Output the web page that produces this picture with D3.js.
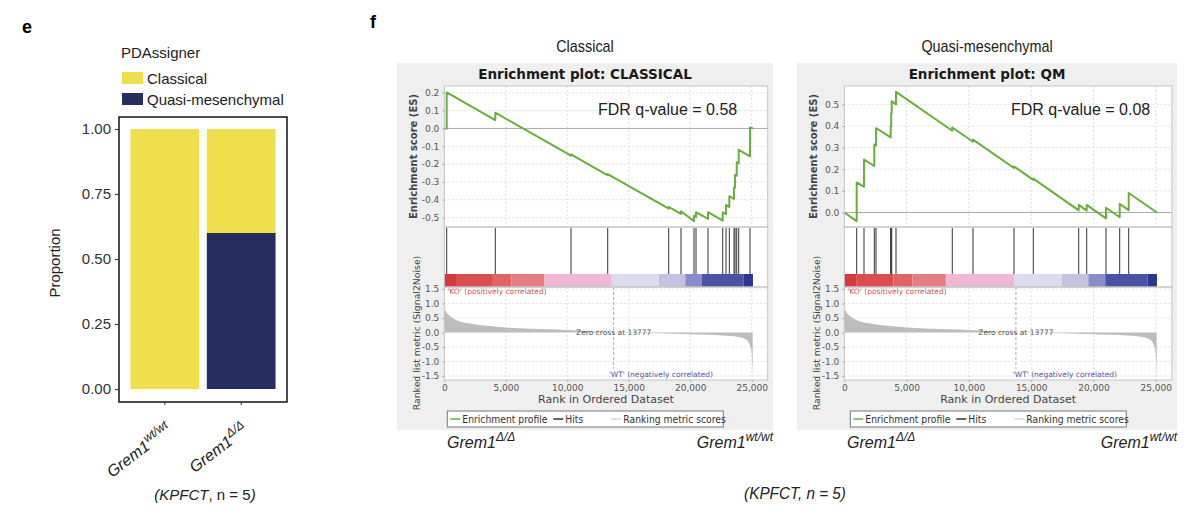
<!DOCTYPE html>
<html>
<head>
<meta charset="utf-8">
<script src="https://cdn.jsdelivr.net/npm/d3@7"></script>
<style>
body { margin: 0; background: #fff; }
svg { display: block; }
</style>
</head>
<body>
<div id="chart"></div>
<script>
// ---- panel e: PDAssigner proportions
const genotypes = ["wt/wt", "Δ/Δ"];
const classicalProp = [1.0, 0.4];
const qmProp = [0.0, 0.6];
const propTicks = [0, 0.25, 0.5, 0.75, 1.0];

// ---- panel f: GSEA (ranked list shared by both gene sets)
const rankTicks = [0, 5000, 10000, 15000, 20000, 25000];
const listSize = 25100;
const zeroCross = 13777;

const metricRanks = [0, 100, 370, 1000, 2350, 3700, 5000, 7800, 10500, 13777, 17300, 20000, 22700, 23800, 24500, 24800, 25000, 25080];
const metricValues = [0.9, 0.75, 0.6, 0.42, 0.29, 0.22, 0.17, 0.12, 0.08, 0.0, -0.03, -0.06, -0.1, -0.15, -0.23, -0.38, -0.72, -1.52];
const metricTicks = [1.5, 1.0, 0.5, 0.0, -0.5, -1.0, -1.5];

const colorBreaks = [0, 950, 3950, 5470, 8150, 13620, 17450, 19600, 20950, 24350, 25100];
const colorBand = ["#d63a3c", "#da4d50", "#de6468", "#e47e83", "#f1b8d6", "#dcdcee", "#c3c3e1", "#878dca", "#4a52a6", "#2b3592"];

const classicalHits = [195, 4148, 10304, 13289, 18250, 19251, 20308, 20471, 21447, 22642, 22911, 23179, 23562, 23643, 23781, 23944, 24862];
const classicalCurve = [[0, 0], [195, 0], [195, 0.202], [4148, 0.047], [4148, 0.088], [10304, -0.153], [10304, -0.146],
  [13289, -0.263], [13289, -0.256], [18250, -0.45], [18250, -0.44], [19251, -0.48], [19251, -0.465],
  [20308, -0.52], [20308, -0.49], [20471, -0.497], [20471, -0.47], [21447, -0.508], [21447, -0.47],
  [22642, -0.517], [22642, -0.47], [22911, -0.481], [22911, -0.43], [23179, -0.44], [23179, -0.38],
  [23562, -0.395], [23562, -0.33], [23643, -0.333], [23643, -0.26], [23781, -0.265], [23781, -0.19],
  [23944, -0.196], [23944, -0.12], [24862, -0.157], [24862, 0.005], [25100, 0.0]];
const classicalTicks = [0.2, 0.1, 0.0, -0.1, -0.2, -0.3, -0.4, -0.5];

const qmHits = [995, 1582, 2408, 2545, 3725, 3765, 3805, 4150, 8670, 10332, 13624, 15173, 18818, 19460, 21009, 22109, 22832];
const qmCurve = [[0, 0], [995, -0.04], [995, 0.139], [1582, 0.119], [1582, 0.245], [2408, 0.215], [2408, 0.315],
  [2545, 0.31], [2545, 0.39], [3725, 0.347], [3725, 0.40], [3765, 0.398], [3765, 0.46], [3805, 0.458], [3805, 0.515],
  [4150, 0.50], [4150, 0.558], [8670, 0.378], [8670, 0.393], [10332, 0.327], [10332, 0.337], [13624, 0.206], [13624, 0.213],
  [15173, 0.151], [15173, 0.157], [18818, 0.010], [18818, 0.035], [19460, 0.009], [19460, 0.035], [21009, -0.027], [21009, 0.022],
  [22109, -0.022], [22109, 0.04], [22832, 0.011], [22832, 0.09], [25100, 0.0]];
const qmTicks = [0.5, 0.4, 0.3, 0.2, 0.1, 0.0];

const svg = d3.select("#chart").append("svg")
  .attr("width", 1200)
  .attr("height", 517);

const sans = "'Liberation Sans', Arial, sans-serif";
const dejavu = "'DejaVu Sans', sans-serif";

// panel letters
svg.append("text").attr("x", 22).attr("y", 33).attr("font-family", sans).attr("font-weight", "bold")
  .attr("font-size", "18px").text("e");
svg.append("text").attr("x", 370).attr("y", 28).attr("font-family", sans).attr("font-weight", "bold")
  .attr("font-size", "18px").text("f");

// =================== panel e ===================
const box = { left: 119, right: 287, top: 117, bottom: 402 };
const rows = genotypes.map((gt, i) => ({ gt: gt, qm: qmProp[i], classical: classicalProp[i] }));
const stacked = d3.stack().keys(["qm", "classical"])(rows);
const fill = { qm: "#252e5e", classical: "#efe04b" };

const xb = d3.scaleBand().domain(genotypes).range([box.left, box.right]).paddingInner(0.1).paddingOuter(0.15);
const yp = d3.scaleLinear().domain([0, 1]).range([389, 129]);

const ge = svg.append("g");
ge.selectAll("g.layer").data(stacked).enter()
  .append("g")
  .attr("class", "layer")
  .attr("fill", d => fill[d.key])
  .selectAll("rect").data(d => d).enter()
  .append("rect")
  .attr("x", d => xb(d.data.gt))
  .attr("width", xb.bandwidth())
  .attr("y", d => yp(Math.min(d[1], 1)))
  .attr("height", d => yp(d[0]) - yp(d[1]));

ge.append("rect")
  .attr("x", box.left).attr("y", box.top)
  .attr("width", box.right - box.left).attr("height", box.bottom - box.top)
  .attr("fill", "none").attr("stroke", "#111").attr("stroke-width", 1.5);

const yAxisE = ge.append("g")
  .attr("transform", `translate(${box.left}, 0)`)
  .call(d3.axisLeft(yp).tickValues(propTicks).tickFormat(d3.format(".2f")).tickSize(4).tickPadding(4));
yAxisE.select(".domain").remove();
yAxisE.selectAll("line").attr("stroke", "#333");
yAxisE.selectAll("text").attr("font-family", sans).attr("font-size", "15px").attr("fill", "#333");

const xAxisE = ge.append("g")
  .attr("transform", `translate(0, ${box.bottom})`)
  .call(d3.axisBottom(xb).tickSize(3).tickFormat(""));
xAxisE.select(".domain").remove();
xAxisE.selectAll("line").attr("stroke", "#333");

genotypes.forEach(gt => {
  const t = ge.append("text")
    .attr("transform", `translate(${xb(gt) + xb.bandwidth() / 2 + 8}, 432) rotate(-37)`)
    .attr("text-anchor", "end")
    .attr("font-family", sans).attr("font-style", "italic").attr("font-size", "16px").attr("fill", "#222");
  t.append("tspan").text("Grem1");
  t.append("tspan").attr("dy", -7).attr("font-size", "12px").text(gt);
});

ge.append("text")
  .attr("transform", "translate(60, 263) rotate(-90)")
  .attr("text-anchor", "middle")
  .attr("font-family", sans).attr("font-size", "15px").attr("fill", "#222")
  .text("Proportion");

// legend
ge.append("text").attr("x", 121).attr("y", 58).attr("font-family", sans).attr("font-size", "15px")
  .attr("fill", "#222").text("PDAssigner");
const legE = [["Classical", fill.classical], ["Quasi-mesenchymal", fill.qm]];
legE.forEach((d, i) => {
  ge.append("rect").attr("x", 122).attr("y", 72 + i * 21).attr("width", 21).attr("height", 12).attr("fill", d[1]);
  ge.append("text").attr("x", 147).attr("y", 84 + i * 21).attr("font-family", sans).attr("font-size", "15px")
    .attr("fill", "#222").text(d[0]);
});

const capE = ge.append("text").attr("x", 205).attr("y", 500).attr("text-anchor", "middle")
  .attr("font-family", sans).attr("font-size", "15px").attr("fill", "#222");
capE.append("tspan").attr("font-style", "italic").text("(KPFCT");
capE.append("tspan").text(", n = 5");
capE.append("tspan").attr("font-style", "italic").text(")");

// =================== panel f ===================
function drawGsea(opt) {
  const g = svg.append("g");
  const x = d3.scaleLinear().domain([0, 26300]).range([opt.x0, opt.x0 + opt.w]);
  const esTop = 86, esBottom = 227, hitBottom = 274, barBottom = 287, metBottom = 380;
  const y = d3.scaleLinear().domain(opt.esDomain).range([esBottom, esTop]);
  const ym = d3.scaleLinear().domain([-1.64, 1.57]).range([metBottom, barBottom]);

  g.append("text").attr("transform", `translate(${opt.bgX + opt.bgW / 2}, 52) scale(0.9, 1)`).attr("text-anchor", "middle")
    .attr("font-family", sans).attr("font-size", "16px").attr("fill", "#222").text(opt.header);

  g.append("rect").attr("x", opt.bgX).attr("y", 63).attr("width", opt.bgW).attr("height", 367).attr("fill", "#efefef");
  g.append("text").attr("x", opt.bgX + opt.bgW / 2).attr("y", 79).attr("text-anchor", "middle")
    .attr("font-family", dejavu).attr("font-weight", "bold").attr("font-size", "13.5px").attr("fill", "#1a1a1a")
    .text(opt.title);

  g.append("rect").attr("x", opt.x0).attr("y", esTop).attr("width", opt.w).attr("height", metBottom - esTop)
    .attr("fill", "#fff");

  // grid
  const grid = g.append("g").attr("stroke", "#dedede").attr("stroke-dasharray", "2,2");
  grid.selectAll("line.v1").data(rankTicks.slice(1)).enter().append("line")
    .attr("x1", d => x(d)).attr("x2", d => x(d)).attr("y1", esTop).attr("y2", esBottom);
  grid.selectAll("line.v2").data(rankTicks.slice(1)).enter().append("line")
    .attr("x1", d => x(d)).attr("x2", d => x(d)).attr("y1", barBottom).attr("y2", metBottom);
  grid.selectAll("line.h1").data(opt.esTicks.filter(d => d !== 0)).enter().append("line")
    .attr("x1", opt.x0).attr("x2", opt.x0 + opt.w).attr("y1", d => y(d)).attr("y2", d => y(d));
  grid.selectAll("line.h2").data(metricTicks.filter(d => d !== 0)).enter().append("line")
    .attr("x1", opt.x0).attr("x2", opt.x0 + opt.w).attr("y1", d => ym(d)).attr("y2", d => ym(d));

  g.append("line").attr("x1", opt.x0).attr("x2", opt.x0 + opt.w).attr("y1", y(0)).attr("y2", y(0))
    .attr("stroke", "#aaa");

  // ES curve
  g.append("path").datum(opt.curve)
    .attr("d", d3.line().x(d => x(d[0])).y(d => y(d[1])))
    .attr("fill", "none").attr("stroke", "#6aaf3d").attr("stroke-width", 2).attr("stroke-linejoin", "round");

  // hits
  g.selectAll("line.hit").data(opt.hits).enter().append("line")
    .attr("x1", d => x(d)).attr("x2", d => x(d)).attr("y1", esBottom + 1).attr("y2", hitBottom)
    .attr("stroke", "#333").attr("stroke-width", 1);

  // colour band
  g.selectAll("rect.band").data(colorBand).enter().append("rect")
    .attr("x", (d, i) => x(colorBreaks[i]))
    .attr("width", (d, i) => x(colorBreaks[i + 1]) - x(colorBreaks[i]))
    .attr("y", hitBottom).attr("height", barBottom - hitBottom)
    .attr("fill", d => d);

  // ranked metric
  const metric = metricRanks.map((r, i) => [r, metricValues[i]]);
  g.append("path").datum(metric)
    .attr("d", d3.area().x(d => x(d[0])).y0(ym(0)).y1(d => ym(d[1])).curve(d3.curveMonotoneX))
    .attr("fill", "#bdbdbd");
  g.append("line").attr("x1", x(zeroCross)).attr("x2", x(zeroCross)).attr("y1", barBottom).attr("y2", ym(-1.25))
    .attr("stroke", "#aaa").attr("stroke-dasharray", "3,2");
  g.append("text").attr("x", x(zeroCross)).attr("y", ym(0) + 3).attr("text-anchor", "middle")
    .attr("font-family", dejavu).attr("font-size", "7.5px").attr("fill", "#555").text("Zero cross at " + zeroCross);
  g.append("text").attr("x", opt.x0 + 3).attr("y", 294).attr("font-family", dejavu).attr("font-size", "7.5px")
    .attr("fill", "#d05555").text("'KO' (positively correlated)");
  g.append("text").attr("x", x(listSize) - 40).attr("y", 377).attr("text-anchor", "end").attr("font-family", dejavu)
    .attr("font-size", "7.5px").attr("fill", "#5555a5").text("'WT' (negatively correlated)");

  // frames
  const frame = g.append("g").attr("fill", "none").attr("stroke", "#c4c4c4");
  frame.append("rect").attr("x", opt.x0).attr("y", esTop).attr("width", opt.w).attr("height", esBottom - esTop);
  frame.append("rect").attr("x", opt.x0).attr("y", esBottom).attr("width", opt.w).attr("height", barBottom - esBottom);
  frame.append("rect").attr("x", opt.x0).attr("y", barBottom).attr("width", opt.w).attr("height", metBottom - barBottom);

  // axes
  const ax1 = g.append("g").attr("transform", `translate(${opt.x0}, 0)`)
    .call(d3.axisLeft(y).tickValues(opt.esTicks).tickFormat(d => d.toFixed(1)).tickSize(2).tickPadding(3));
  const ax2 = g.append("g").attr("transform", `translate(${opt.x0}, 0)`)
    .call(d3.axisLeft(ym).tickValues(metricTicks).tickFormat(d => d.toFixed(1)).tickSize(2).tickPadding(3));
  const ax3 = g.append("g").attr("transform", `translate(0, ${metBottom})`)
    .call(d3.axisBottom(x).tickValues(rankTicks).tickFormat(d3.format(",")).tickSize(2).tickPadding(3));
  [ax1, ax2, ax3].forEach(a => {
    a.select(".domain").remove();
    a.selectAll("line").attr("stroke", "#aaa");
    a.selectAll("text").attr("font-family", dejavu).attr("font-size", "9px").attr("fill", "#555");
  });

  g.append("text").attr("x", opt.x0 + opt.w / 2).attr("y", 403).attr("text-anchor", "middle")
    .attr("font-family", dejavu).attr("font-size", "11px").attr("fill", "#444").text("Rank in Ordered Dataset");
  g.append("text").attr("transform", `translate(${opt.x0 - 27}, ${(esTop + esBottom) / 2}) rotate(-90)`)
    .attr("text-anchor", "middle").attr("font-family", dejavu).attr("font-weight", "bold").attr("font-size", "10px")
    .attr("fill", "#444").text("Enrichment score (ES)");
  g.append("text").attr("transform", `translate(${opt.x0 - 24}, 333) rotate(-90)`)
    .attr("text-anchor", "middle").attr("font-family", dejavu).attr("font-size", "9.3px")
    .attr("fill", "#444").text("Ranked list metric (Signal2Noise)");

  g.append("text").attr("x", opt.fdrX).attr("y", 115).attr("font-family", sans).attr("font-size", "16px")
    .attr("fill", "#222").text("FDR q-value = " + opt.fdr);

  // legend
  const lx = opt.x0 + opt.legDx, ly = 411;
  g.append("rect").attr("x", lx).attr("y", ly).attr("width", 276).attr("height", 16)
    .attr("fill", "#fff").attr("stroke", "#777");
  const legItems = [
    { line: "#6aaf3d", text: "Enrichment profile", dx: 3 },
    { line: "#333", text: "Hits", dx: 106 },
    { line: "#d6d6d6", text: "Ranking metric scores", dx: 164 }
  ];
  legItems.forEach(d => {
    g.append("line").attr("x1", lx + d.dx).attr("x2", lx + d.dx + 10).attr("y1", ly + 8).attr("y2", ly + 8)
      .attr("stroke", d.line).attr("stroke-width", 1.5);
    g.append("text").attr("transform", `translate(${lx + d.dx + 12}, ${ly + 12}) scale(0.88, 1)`)
      .attr("font-family", dejavu).attr("font-size", "10.5px").attr("fill", "#333").text(d.text);
  });

  // genotype labels
  const left = g.append("text").attr("x", opt.bgX + 50).attr("y", 448)
    .attr("font-family", sans).attr("font-style", "italic").attr("font-size", "16px").attr("fill", "#222");
  left.append("tspan").text("Grem1");
  left.append("tspan").attr("dy", -7).attr("font-size", "12px").text(genotypes[1]);
  const right = g.append("text").attr("x", opt.bgX + opt.bgW).attr("y", 448)
    .attr("text-anchor", "end")
    .attr("font-family", sans).attr("font-style", "italic").attr("font-size", "16px").attr("fill", "#222");
  right.append("tspan").text("Grem1");
  right.append("tspan").attr("dy", -7).attr("font-size", "12px").text(genotypes[0]);
}

drawGsea({ x0: 444.3, w: 323.4, bgX: 397, bgW: 376, esDomain: [-0.553, 0.238], esTicks: classicalTicks,
  hits: classicalHits, curve: classicalCurve, header: "Classical", title: "Enrichment plot: CLASSICAL",
  fdr: "0.58", fdrX: 598, legDx: 3 });
drawGsea({ x0: 844.3, w: 327.6, bgX: 797, bgW: 380, esDomain: [-0.067, 0.585], esTicks: qmTicks,
  hits: qmHits, curve: qmCurve, header: "Quasi-mesenchymal", title: "Enrichment plot: QM",
  fdr: "0.08", fdrX: 1011, legDx: 6 });

svg.append("text").attr("transform", "translate(795, 499) scale(0.9, 1)").attr("text-anchor", "middle")
  .attr("font-family", sans).attr("font-style", "italic").attr("font-size", "17px").attr("fill", "#222")
  .text("(KPFCT, n = 5)");
</script>
</body>
</html>
